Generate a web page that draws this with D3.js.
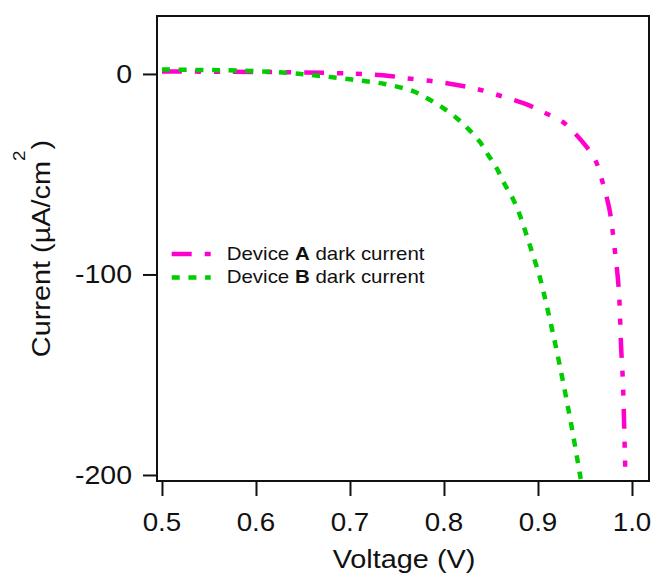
<!DOCTYPE html>
<html><head><meta charset="utf-8">
<script src="https://cdn.jsdelivr.net/npm/d3@7"></script>
<style>html,body{margin:0;padding:0;background:#fff;} svg{display:block;font-family:"Liberation Sans",Arial,sans-serif;}</style>
</head><body>
<svg id="chart" width="653" height="574"></svg>
<script>
// ---- data ----
const voltageA = [0.500,0.566,0.639,0.687,0.713,0.742,0.761,0.788,0.817,0.836,0.862,0.888,0.907,0.925,0.937,0.950,0.961,0.969,0.976,0.979,0.982,0.985,0.9865,0.9875,0.9885,0.9898,0.9908,0.9915,0.9920,0.9926,0.9930];
const currentA = [1.2,1.1,0.8,0.4,0.0,-1.0,-2.2,-3.6,-5.8,-7.6,-11.2,-15.2,-19.3,-23.5,-28.5,-35.4,-43,-54.5,-67.5,-77,-89,-102,-112,-124,-137,-148,-160,-172,-182,-192,-201];
const voltageB = [0.500,0.540,0.579,0.632,0.666,0.702,0.737,0.767,0.783,0.797,0.813,0.825,0.838,0.847,0.856,0.864,0.873,0.880,0.891,0.902,0.909,0.916,0.923,0.930,0.937,0.944,0.9455];
const currentB = [2.2,2.0,1.7,0.6,-0.9,-2.8,-5.0,-8.6,-12.4,-16.3,-21.8,-27,-33.8,-40.4,-47,-54.5,-62,-69.5,-85,-101.5,-115,-129.5,-145,-161.5,-179,-198,-202];
const xTicks = [0.5,0.6,0.7,0.8,0.9,1.0];
const xTickLabels = ["0.5","0.6","0.7","0.8","0.9","1.0"];
const yTicks = [0,-100,-200];
const yTickLabels = ["0","-100","-200"];
const seriesNames = ["Device ", "A", " dark current", "Device ", "B", " dark current"];
const colors = ["#ff00cc","#00cc00"];

// ---- layout ----
const L = 157, R = 649, T = 16, B = 481;
const sx = 1.11; // horizontal text stretch seen in the picture
const svg = d3.select("#chart");
const x = d3.scaleLinear().domain([0.4947, 1.0181]).range([L, R]);
const y = d3.scaleLinear().domain([28.9, -203]).range([T, B]);

svg.append("defs").append("clipPath").attr("id","clip")
  .append("rect").attr("x",L).attr("y",T).attr("width",R-L).attr("height",B-T);

const line = d3.line().x(d=>x(d[0])).y(d=>y(d[1])).curve(d3.curveCatmullRom.alpha(0.5));
const dataA = voltageA.map((v,i)=>[v,currentA[i]]);
const dataB = voltageB.map((v,i)=>[v,currentB[i]]);

const g = svg.append("g").attr("clip-path","url(#clip)");
g.append("path").datum(dataA).attr("d",line).attr("fill","none")
  .attr("stroke",colors[0]).attr("stroke-width",4.5).attr("stroke-dasharray","20,13,6,13,6,13");
g.append("path").datum(dataB).attr("d",line).attr("fill","none")
  .attr("stroke",colors[1]).attr("stroke-width",4.5).attr("stroke-dasharray","8,8.7");

// frame
svg.append("rect").attr("x",L).attr("y",T).attr("width",R-L).attr("height",B-T)
  .attr("fill","none").attr("stroke","#111").attr("stroke-width",2);

// axes
const xAxis = d3.axisBottom(x).tickValues(xTicks).tickSize(15).tickSizeOuter(0).tickFormat("");
const xg = svg.append("g").attr("transform",`translate(0,${B})`).call(xAxis);
xg.select(".domain").remove();
xg.selectAll(".tick line").attr("stroke","#111").attr("stroke-width",2);
const yAxis = d3.axisLeft(y).tickValues(yTicks).tickSize(14).tickSizeOuter(0).tickFormat("");
const yg = svg.append("g").attr("transform",`translate(${L},0)`).call(yAxis);
yg.select(".domain").remove();
yg.selectAll(".tick line").attr("stroke","#111").attr("stroke-width",2);

// tick labels
xTicks.forEach((t,i)=>{
  svg.append("g").attr("transform",`translate(${x(t)},531) scale(${sx},1)`)
    .append("text").attr("text-anchor","middle").attr("font-size",25).attr("fill","#111").text(xTickLabels[i]);
});
yTicks.forEach((t,i)=>{
  svg.append("g").attr("transform",`translate(132,${y(t)+9}) scale(${sx+0.03},1)`)
    .append("text").attr("text-anchor","end").attr("font-size",25).attr("fill","#111").text(yTickLabels[i]);
});

// axis titles
svg.append("g").attr("transform",`translate(${(L+R)/2+1},568) scale(${sx},1)`)
  .append("text").attr("text-anchor","middle").attr("font-size",26).attr("fill","#111").text("Voltage (V)");
const yt = svg.append("g").attr("transform",`translate(50,${(T+B)/2}) rotate(-90) scale(${sx},1)`)
  .append("text").attr("text-anchor","middle").attr("font-size",26).attr("fill","#111");
yt.append("tspan").text("Current (µA/cm");
yt.append("tspan").attr("font-size",17).attr("dy",-25).attr("dx",0).text("2");
yt.append("tspan").attr("dy",25).attr("dx",1).text(")");

// legend
const legY = [254, 277.5];
[0,1].forEach(k=>{
  svg.append("line").attr("x1",171.7).attr("x2",210.7).attr("y1",legY[k]).attr("y2",legY[k])
    .attr("stroke",colors[k]).attr("stroke-width",4.5)
    .attr("stroke-dasharray", k===0 ? "20,13,6,13" : "8,8.7");
  const t = svg.append("g").attr("transform",`translate(226.7,${legY[k]+5.5}) scale(1.17,1)`)
    .append("text").attr("font-size",17.5).attr("fill","#111");
  t.append("tspan").text(seriesNames[k*3]);
  t.append("tspan").attr("font-weight","bold").text(seriesNames[k*3+1]);
  t.append("tspan").text(seriesNames[k*3+2]);
});
</script>
</body></html>
